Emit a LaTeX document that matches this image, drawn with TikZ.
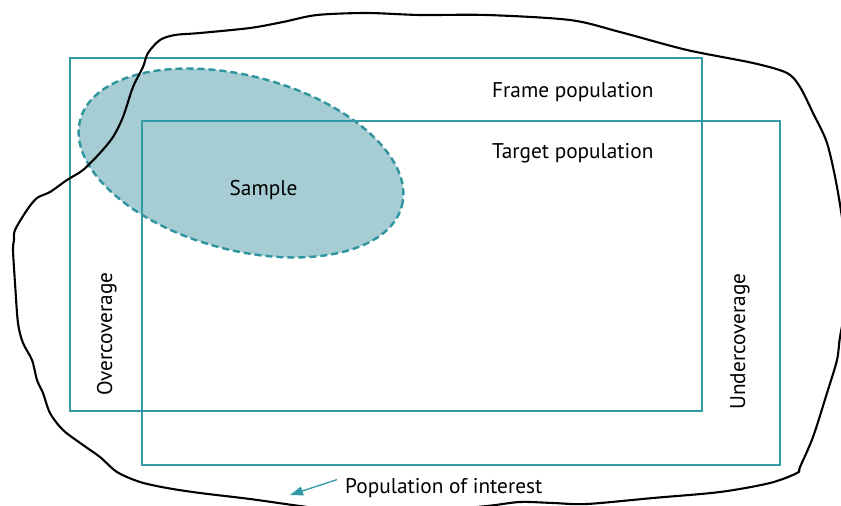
\documentclass[tikz,border=0pt]{standalone}
\usepackage{fontspec}
\setmainfont{PT Sans}
\usetikzlibrary{arrows.meta}
\definecolor{frameteal}{HTML}{3399A4}
\definecolor{samplefill}{HTML}{A6CDD3}
\definecolor{sampleline}{HTML}{2E949E}

\begin{document}
\begin{tikzpicture}[x=1pt, y=-1pt,
		popbox/.style={draw=frameteal, line width=2.6pt},
		poplabel/.style={inner sep=0pt, font=\fontsize{21.3}{25}\selectfont},
		pointer/.style={draw=frameteal, line width=1.3pt, -{Triangle[length=13pt, width=9pt]}}]
			%%%%% START %%%%%
			\useasboundingbox (0, 0) rectangle (841, 506);
			\clip (0, 0) rectangle (841, 506);
			
			% sample
			\begin{scope}[shift={(241, 163)}, rotate=-15]
				\draw[fill=samplefill, draw=sampleline, line width=2.4pt, dash pattern=on 7pt off 4pt] (0, 0) ellipse [x radius=166.5pt, y radius=87pt];
			\end{scope}
			
			% frame and target
			\draw[popbox] (70, 58) rectangle (702, 411);
			\draw[popbox] (142, 121) rectangle (780, 465);
			
			% population of interest
			\draw[line width=2.1pt] plot[smooth cycle, tension=0.5] coordinates {
				(143,67) (148,53) (160,40) (175,35) (200,33) (250,28) (283,22) (317,15) (367,13) (420,15)
				(487,15) (570,20) (620,32) (687,50) (753,63) (787,73) (800,87) (813,113) (827,143) (837,187)
				(845,240) (848,290) (840,337) (837,360) (827,393) (813,437) (800,467) (797,473) (770,483) (720,492)
				(653,498) (587,504) (553,503) (520,502) (487,506) (420,512) (350,512) (300,506) (250,499) (200,493)
				(167,488) (140,482) (117,472) (100,457) (83,445) (63,430) (50,413) (43,393) (37,380) (32,360)
				(23,343) (18,323) (15,283) (13,250) (14,240) (15,230) (27,210) (37,198) (50,192) (67,180)
				(83,170) (100,153) (113,137) (123,117) (133,87)};
			
			\node[poplabel, anchor=base west] (framelbl) at (492, 97) {Frame population};
			\node[poplabel, anchor=base west] (targetlbl) at (492, 158) {Target population};
			\node[poplabel, anchor=base] (samplelbl) at (263.5, 195) {Sample};
			\node[poplabel, anchor=base west, rotate=90] (overlbl) at (112, 396) {Overcoverage};
			\node[poplabel, anchor=base west, rotate=90] (underlbl) at (745, 410) {Undercoverage};
			\node[poplabel, anchor=base west] (interest) at (345, 493) {Population of interest};
			
			\coordinate (tip) at (290, 495);
			\draw[pointer] ([shift={(-8, -8)}]interest.west) -- (tip);
			%%%%% END %%%%%
\end{tikzpicture}
\end{document}
